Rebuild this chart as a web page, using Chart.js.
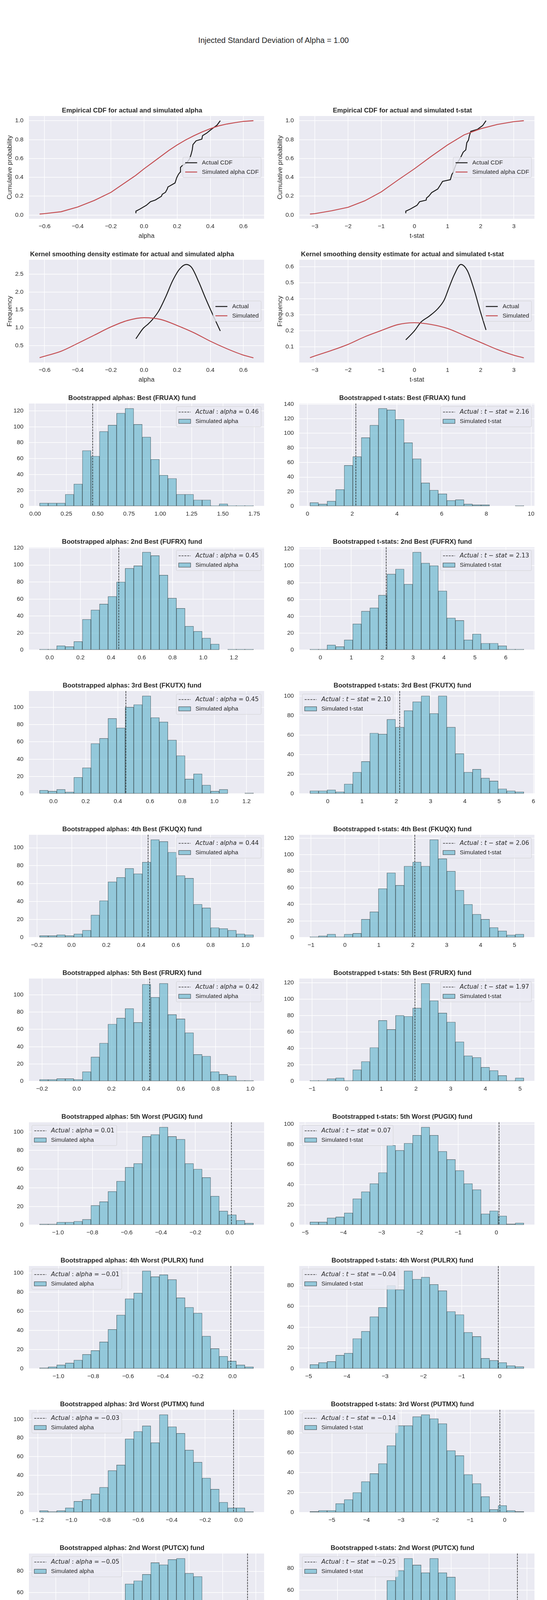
<!DOCTYPE html>
<html>
<head>
<meta charset="utf-8">
<script src="https://cdn.jsdelivr.net/npm/chart.js@4.4.1/dist/chart.umd.min.js"></script>
<style>
  body { margin: 0; background: #fff; }
  #fig { position: relative; width: 1400px; height: 4800px; background: #fff; overflow: hidden; }
  #suptitle { position: absolute; left: 0; top: 90px; width: 1400px; text-align: center;
    font: 20px "Liberation Sans", Arial, sans-serif; line-height: 26px; color: #262626; }
</style>
</head>
<body>
<div id="fig"><div id="suptitle">Injected Standard Deviation of Alpha = 1.00</div></div>
<script>
// ---- empirical CDFs ----
const cdfAlphaActX = [-0.049,-0.049,-0.026,0.014,0.039,0.068,0.105,0.11,0.129,0.141,0.144,0.187,0.197,0.207,0.218,0.22,0.23,0.258,0.275,0.284,0.291,0.295,0.314,0.349,0.353,0.377,0.408,0.44,0.46];
const cdfAlphaActY = [0.018,0.041,0.062,0.103,0.141,0.159,0.199,0.22,0.24,0.279,0.297,0.34,0.395,0.43,0.455,0.505,0.523,0.554,0.595,0.643,0.691,0.746,0.787,0.805,0.842,0.867,0.911,0.952,1.0];
const cdfAlphaSimX = [-0.63,-0.6,-0.5,-0.4,-0.3,-0.2,-0.1,-0.05,0,0.05,0.1,0.15,0.2,0.25,0.3,0.35,0.4,0.45,0.5,0.55,0.6,0.66];
const cdfAlphaSimY = [0.01,0.015,0.035,0.085,0.155,0.24,0.36,0.42,0.49,0.555,0.62,0.685,0.743,0.795,0.84,0.88,0.916,0.945,0.965,0.98,0.993,1.0];

const cdfTActX = [-0.26,-0.26,-0.13,0.078,0.157,0.355,0.365,0.433,0.522,0.704,0.78,0.85,1.085,1.13,1.17,1.2,1.25,1.32,1.39,1.47,1.55,1.58,1.63,1.66,1.7,1.9,2.06,2.16];
const cdfTActY = [0.018,0.041,0.062,0.103,0.141,0.158,0.18,0.2,0.238,0.276,0.317,0.357,0.375,0.43,0.45,0.485,0.533,0.567,0.606,0.666,0.691,0.766,0.794,0.842,0.887,0.908,0.949,1.0];
const cdfTSimX = [-3.15,-3,-2.5,-2,-1.5,-1,-0.5,0,0.5,1,1.5,2,2.5,3,3.3];
const cdfTSimY = [0.01,0.015,0.045,0.082,0.15,0.245,0.37,0.49,0.62,0.743,0.85,0.915,0.96,0.99,1.0];

// ---- kernel density estimates ----
const kdeAlphaActX = [-0.049,-0.005,0.026,0.052,0.089,0.131,0.173,0.215,0.255,0.288,0.33,0.372,0.424,0.46];
const kdeAlphaActY = [0.69,0.98,1.107,1.233,1.468,1.866,2.318,2.644,2.77,2.68,2.282,1.812,1.269,0.908];
const kdeAlphaSimX = [-0.63,-0.6,-0.5,-0.4,-0.3,-0.2,-0.1,0,0.1,0.2,0.3,0.4,0.5,0.6,0.66];
const kdeAlphaSimY = [0.16,0.2,0.34,0.56,0.79,1.02,1.2,1.28,1.23,1.06,0.86,0.62,0.41,0.23,0.155];

const kdeTActX = [-0.26,0,0.2,0.45,0.7,0.9,1.05,1.2,1.4,1.6,1.8,2.0,2.16];
const kdeTActY = [0.144,0.2,0.255,0.292,0.337,0.393,0.473,0.549,0.614,0.574,0.457,0.313,0.206];
const kdeTSimX = [-3.15,-3,-2.5,-2,-1.5,-1,-0.5,0,0.5,1,1.5,2,2.5,3,3.3];
const kdeTSimY = [0.033,0.044,0.078,0.116,0.163,0.202,0.239,0.251,0.24,0.215,0.172,0.128,0.084,0.048,0.032];

// tick labels for the top two rows
const alphaTicks = [-0.6,-0.4,-0.2,0,0.2,0.4,0.6];
const tstatTicks = [-3,-2,-1,0,1,2,3];
const cdfYTicks = [0,0.2,0.4,0.6,0.8,1.0];
const kdeAlphaYTicks = [0.5,1.0,1.5,2.0,2.5];
const kdeTYTicks = [0.1,0.2,0.3,0.4,0.5,0.6];

// ---- bootstrapped histograms (25 bins each) ----
const histFunds = ['Best (FRUAX)','2nd Best (FUFRX)','3rd Best (FKUTX)','4th Best (FKUQX)','5th Best (FRURX)',
  '5th Worst (PUGIX)','4th Worst (PULRX)','3rd Worst (PUTMX)','2nd Worst (PUTCX)','Worst (PUTBX)'];
const histActual = [0.46,2.16,0.45,2.13,0.45,2.10,0.44,2.06,0.42,1.97,0.01,0.07,-0.01,-0.04,-0.03,-0.14,-0.05,-0.25,-0.05,-0.25];
const histBinLo = [0.036,0.109,-0.0657,-0.337,-0.0865,-0.516,-0.184,-1.031,-0.214,-1.06,-1.107,-4.873,-1.108,-4.964,-1.19,-5.633,-1.296,-5.723,-1.448,-8.763];
const histBinHi = [1.744,9.674,1.327,6.584,1.243,5.719,1.046,5.275,1.018,5.11,0.138,0.717,0.12,0.626,0.089,0.552,-0.0146,-0.082,-0.1085,-0.514];
const histCounts = [
  [4,4,4,15,28,70,63,94,102,117,123,103,87,59,39,35,15,15,8,8,1,3,1,1,1],
  [5,3,7,23,56,68,94,111,134,132,119,87,65,32,22,17,8,9,3,2,2,0,0,0,1],
  [1,1,5,4,10,36,47,54,63,80,96,99,115,111,88,61,49,28,22,14,7,0,1,1,1],
  [1,1,6,4,12,31,46,50,65,90,96,78,116,103,100,70,38,35,12,19,8,8,5,1,1],
  [4,3,5,2,19,30,58,64,87,76,100,103,113,88,83,62,44,17,23,10,3,5,0,0,1],
  [3,3,4,2,10,22,33,62,61,76,68,85,94,100,82,100,68,41,22,25,16,13,5,3,2],
  [2,2,3,2,4,8,25,41,62,67,77,71,84,109,107,95,69,66,37,33,11,10,8,4,3],
  [1,2,4,1,4,5,22,31,59,78,63,86,91,86,118,95,80,57,40,28,22,12,8,3,4],
  [2,2,3,3,2,11,28,44,66,73,84,68,112,97,113,77,72,56,31,29,11,8,6,1,1],
  [1,1,3,4,1,14,24,41,74,63,80,79,89,119,98,83,72,48,31,29,17,13,7,1,4],
  [1,1,3,3,4,6,21,25,36,47,62,66,95,97,105,95,92,66,60,51,31,15,11,5,2],
  [3,3,7,8,12,26,33,41,52,79,74,81,89,97,89,73,65,54,41,35,11,14,9,1,2],
  [1,2,4,6,9,15,19,28,41,56,73,79,102,96,98,93,74,64,58,34,21,13,8,4,2],
  [4,6,7,13,15,29,36,50,59,80,76,94,86,88,81,75,55,52,35,31,10,8,6,3,2],
  [2,1,2,5,12,14,20,27,45,51,79,87,93,75,105,92,85,67,54,37,25,11,5,5,1],
  [1,2,2,9,13,20,31,39,49,67,87,87,96,98,94,89,62,57,38,29,16,3,7,2,1],
  [1,2,2,6,9,15,19,20,35,45,68,71,77,88,86,91,92,78,75,40,29,26,16,5,4],
  [3,5,5,14,20,33,28,29,46,69,78,89,83,76,89,76,72,49,49,32,15,19,11,7,2],
  [1,2,7,11,12,9,24,31,31,52,63,59,63,81,96,98,79,82,74,42,33,25,14,5,6],
  [1,0,0,0,1,2,5,5,7,18,27,42,60,76,102,120,123,124,95,72,53,30,24,11,5]
];
const histXTicks = [
  [0,0.25,0.5,0.75,1.0,1.25,1.5,1.75], [0,2,4,6,8,10],
  [0,0.2,0.4,0.6,0.8,1.0,1.2], [0,1,2,3,4,5,6],
  [0,0.2,0.4,0.6,0.8,1.0,1.2], [0,1,2,3,4,5,6],
  [-0.2,0,0.2,0.4,0.6,0.8,1.0], [-1,0,1,2,3,4,5],
  [-0.2,0,0.2,0.4,0.6,0.8,1.0], [-1,0,1,2,3,4,5],
  [-1.0,-0.8,-0.6,-0.4,-0.2,0], [-5,-4,-3,-2,-1,0],
  [-1.0,-0.8,-0.6,-0.4,-0.2,0], [-5,-4,-3,-2,-1,0],
  [-1.2,-1.0,-0.8,-0.6,-0.4,-0.2,0], [-5,-4,-3,-2,-1,0],
  [-1.2,-1.0,-0.8,-0.6,-0.4,-0.2,0], [-5,-4,-3,-2,-1,0],
  [-1.4,-1.2,-1.0,-0.8,-0.6,-0.4,-0.2], [-8,-6,-4,-2]
];
const histXDecimals = [2,0,1,0,1,0,1,0,1,0,1,0,1,0,1,0,1,0,1,0];
const histYStep = 20;
const histLegendLoc = ['upper right','upper right','upper right','upper right','upper right','upper left',
  'upper right','upper right','upper right','upper right','upper left','upper left','upper left','upper left',
  'upper left','upper left','upper left','upper left','upper left','upper left'];

// ---- look ----
const BG = '#EAEAF2', TXT = '#262626', RED = '#C44E52', BLK = '#1A1A1A';
const BAR_FILL = 'rgba(100,181,205,0.65)', BAR_EDGE = 'rgba(26,26,26,0.7)';
const TICK_FS = 15.3, LAB_FS = 16.7;
const FONT = '"Liberation Sans", Arial, sans-serif';
const MATH = '"DejaVu Sans", sans-serif';

// axes geometry (figure pixels)
const AX_LEFT = [74, 766], AX_TOP0 = 297, ROW_PITCH = 368, AX_W = 602, AX_H = 263;
const PAD_L = 74, PAD_T = 34, PAD_B = 60, PAD_R = 22;

Chart.defaults.font.family = FONT;
Chart.defaults.color = TXT;

function padRange(vals) {
  const lo = Math.min(...vals), hi = Math.max(...vals), m = (hi - lo) * 0.05;
  return [lo - m, hi + m];
}
function fmtTick(v, d) {
  if (Math.abs(v) < 1e-9) v = 0;
  const s = Math.abs(v).toFixed(d);
  return v < 0 ? '\u2212' + s : s;
}
function pts(xs, ys) { return xs.map((x, i) => ({x, y: ys[i]})); }

function segFont(seg) {
  if (seg.math) return (seg.it ? 'italic ' : '') + TICK_FS + 'px ' + MATH;
  return TICK_FS + 'px ' + FONT;
}
function itemSegs(it) { return it.segs || [{t: it.text}]; }

// matplotlib-like background, vertical marker and legend
const axesDeco = {
  id: 'axesDeco',
  beforeDraw(chart) {
    const {ctx, chartArea: ca} = chart;
    ctx.save();
    ctx.fillStyle = BG;
    ctx.fillRect(ca.left, ca.top, ca.right - ca.left, ca.bottom - ca.top);
    ctx.restore();
  },
  afterDatasetsDraw(chart, args, o) {
    const {ctx, chartArea: ca} = chart;
    if (o.vline !== undefined && o.vline !== null) {
      const x = chart.scales.x.getPixelForValue(o.vline);
      ctx.save();
      ctx.strokeStyle = BLK; ctx.lineWidth = 1.4; ctx.setLineDash([5.1, 2.2]);
      ctx.beginPath(); ctx.moveTo(x, ca.top); ctx.lineTo(x, ca.bottom); ctx.stroke();
      ctx.restore();
    }
    if (!o.items) return;
    const fs = TICK_FS;
    const pad = 0.4 * fs, hl = 2 * fs, htp = 0.8 * fs, rowH = 16.1, sp = 0.5 * fs, bap = 0.5 * fs;
    ctx.save();
    const widths = o.items.map(it => itemSegs(it).reduce((s, g) => {
      ctx.font = segFont(g); return s + ctx.measureText(g.t).width;
    }, 0));
    const n = o.items.length;
    const w = 2 * pad + hl + htp + Math.max(...widths);
    const h = 2 * pad + n * rowH + (n - 1) * sp;
    const x = o.loc.indexOf('left') >= 0 ? ca.left + bap : ca.right - bap - w;
    const y = o.loc.indexOf('upper') === 0 ? ca.top + bap : (ca.top + ca.bottom) / 2 - h / 2;
    ctx.beginPath();
    if (ctx.roundRect) ctx.roundRect(x, y, w, h, 3); else ctx.rect(x, y, w, h);
    ctx.fillStyle = 'rgba(234,234,242,0.8)'; ctx.fill();
    ctx.strokeStyle = 'rgba(204,204,204,0.8)'; ctx.lineWidth = 1; ctx.stroke();
    o.items.forEach((it, i) => {
      const cy = y + pad + rowH / 2 + i * (rowH + sp);
      const hx = x + pad;
      ctx.setLineDash([]);
      if (it.kind === 'line') {
        ctx.strokeStyle = it.color; ctx.lineWidth = 2.4;
        ctx.beginPath(); ctx.moveTo(hx, cy); ctx.lineTo(hx + hl, cy); ctx.stroke();
      } else if (it.kind === 'dash') {
        ctx.strokeStyle = BLK; ctx.lineWidth = 1.4; ctx.setLineDash([5.1, 2.2]);
        ctx.beginPath(); ctx.moveTo(hx, cy); ctx.lineTo(hx + hl, cy); ctx.stroke();
        ctx.setLineDash([]);
      } else {
        const ph = 0.7 * fs;
        ctx.fillStyle = BAR_FILL; ctx.fillRect(hx, cy - ph / 2, hl, ph);
        ctx.strokeStyle = BAR_EDGE; ctx.lineWidth = 1.2; ctx.strokeRect(hx, cy - ph / 2, hl, ph);
      }
      let tx = hx + hl + htp;
      ctx.fillStyle = TXT; ctx.textBaseline = 'middle'; ctx.textAlign = 'left';
      itemSegs(it).forEach(g => {
        ctx.font = segFont(g);
        ctx.fillText(g.t, tx, cy);
        tx += ctx.measureText(g.t).width;
      });
    });
    ctx.restore();
  }
};

function axis(range, ticks, dec, isX, title) {
  const [min, max] = range;
  const inside = ticks.filter(v => v >= min - 1e-9 && v <= max + 1e-9);
  return {
    type: 'linear', min, max, offset: false,
    grid: {color: '#ffffff', lineWidth: 1.4, drawTicks: false, offset: false},
    border: {display: false},
    ticks: {autoSkip: false, maxRotation: 0, padding: isX ? 11 : 14,
      font: {size: TICK_FS}, color: TXT, callback: v => fmtTick(v, dec)},
    afterBuildTicks: s => { s.ticks = inside.map(v => ({value: v})); },
    afterFit: s => { if (isX) s.height = PAD_B; else s.width = PAD_L; },
    title: title ? {display: true, text: title, color: TXT, font: {size: LAB_FS, lineHeight: 1.2},
      padding: isX ? {top: 0, bottom: 6} : {top: 15, bottom: 0}} : {display: false}
  };
}

const fig = document.getElementById('fig');
function makeCanvas(r, c) {
  const cv = document.createElement('canvas');
  cv.width = PAD_L + AX_W + PAD_R;
  cv.height = PAD_T + AX_H + PAD_B;
  const left = AX_LEFT[c] - PAD_L, top = AX_TOP0 + r * ROW_PITCH - PAD_T;
  cv.style.cssText = 'position:absolute;left:' + left + 'px;top:' + top + 'px;width:' +
    cv.width + 'px;height:' + cv.height + 'px';
  fig.appendChild(cv);
  return cv;
}

function baseOptions(title, scales, deco) {
  return {
    responsive: false, animation: false, devicePixelRatio: 1,
    layout: {padding: {left: 0, right: PAD_R, top: 0, bottom: 0}},
    plugins: {
      legend: {display: false}, tooltip: {enabled: false},
      title: {display: true, text: title, color: TXT, font: {size: LAB_FS, weight: 'bold', lineHeight: 1.2},
        padding: {top: 10, bottom: 4}},
      axesDeco: deco
    },
    scales
  };
}

function lineChart(r, c, cfg) {
  const allX = cfg.ax.concat(cfg.sx), allY = cfg.ay.concat(cfg.sy);
  const ds = (xs, ys, color, order) => ({
    data: pts(xs, ys), showLine: true, pointRadius: 0, borderColor: color, borderWidth: 2.4,
    fill: false, order, tension: cfg.smooth ? 0.4 : 0, cubicInterpolationMode: cfg.smooth ? 'monotone' : 'default'
  });
  new Chart(makeCanvas(r, c), {
    type: 'scatter',
    data: {datasets: [ds(cfg.ax, cfg.ay, BLK, 1), ds(cfg.sx, cfg.sy, RED, 0)]},
    options: baseOptions(cfg.title, {
      x: axis(padRange(allX), cfg.xt, cfg.xd, true, cfg.xlab),
      y: axis(padRange(allY), cfg.yt, 1, false, cfg.ylab)
    }, {loc: 'center right', items: [
      {kind: 'line', color: BLK, text: cfg.labels[0]},
      {kind: 'line', color: RED, text: cfg.labels[1]}
    ]}),
    plugins: [axesDeco]
  });
}

lineChart(0, 0, {title: 'Empirical CDF for actual and simulated alpha', xlab: 'alpha', ylab: 'Cumulative probability',
  ax: cdfAlphaActX, ay: cdfAlphaActY, sx: cdfAlphaSimX, sy: cdfAlphaSimY, xt: alphaTicks, xd: 1, yt: cdfYTicks,
  labels: ['Actual CDF', 'Simulated alpha CDF'], smooth: false});
lineChart(0, 1, {title: 'Empirical CDF for actual and simulated t-stat', xlab: 't-stat', ylab: 'Cumulative probability',
  ax: cdfTActX, ay: cdfTActY, sx: cdfTSimX, sy: cdfTSimY, xt: tstatTicks, xd: 0, yt: cdfYTicks,
  labels: ['Actual CDF', 'Simulated alpha CDF'], smooth: false});
lineChart(1, 0, {title: 'Kernel smoothing density estimate for actual and simulated alpha', xlab: 'alpha', ylab: 'Frequency',
  ax: kdeAlphaActX, ay: kdeAlphaActY, sx: kdeAlphaSimX, sy: kdeAlphaSimY, xt: alphaTicks, xd: 1, yt: kdeAlphaYTicks,
  labels: ['Actual', 'Simulated'], smooth: true});
lineChart(1, 1, {title: 'Kernel smoothing density estimate for actual and simulated t-stat', xlab: 't-stat', ylab: 'Frequency',
  ax: kdeTActX, ay: kdeTActY, sx: kdeTSimX, sy: kdeTSimY, xt: tstatTicks, xd: 0, yt: kdeTYTicks,
  labels: ['Actual', 'Simulated'], smooth: true});

function actualLabel(isT, v) {
  const num = (v < 0 ? '\u2212' : '') + Math.abs(v).toFixed(2);
  const segs = [{t: 'Actual', math: 1, it: 1}, {t: ' : ', math: 1}];
  if (isT) segs.push({t: 't', math: 1, it: 1}, {t: ' \u2212 ', math: 1}, {t: 'stat', math: 1, it: 1});
  else segs.push({t: 'alpha', math: 1, it: 1});
  segs.push({t: ' = ' + num, math: 1});
  return segs;
}

histCounts.forEach((counts, k) => {
  const isT = k % 2 === 1;
  const lo = histBinLo[k], hi = histBinHi[k], bw = (hi - lo) / counts.length;
  const centers = counts.map((_, i) => lo + (i + 0.5) * bw);
  const xr = padRange([lo, hi, histActual[k]]);
  const ymax = Math.max(...counts) * 1.05;
  const yt = [];
  for (let v = 0; v <= ymax; v += histYStep) yt.push(v);
  const title = 'Bootstrapped ' + (isT ? 't-stats' : 'alphas') + ': ' + histFunds[Math.floor(k / 2)] + ' fund';
  new Chart(makeCanvas(2 + Math.floor(k / 2), k % 2), {
    type: 'bar',
    data: {datasets: [{
      data: pts(centers, counts), backgroundColor: BAR_FILL, borderColor: BAR_EDGE, borderWidth: 0.8,
      borderSkipped: false, barPercentage: 1, categoryPercentage: 1, grouped: false
    }]},
    options: baseOptions(title, {
      x: axis(xr, histXTicks[k], histXDecimals[k], true, null),
      y: axis([0, ymax], yt, 0, false, null)
    }, {vline: histActual[k], loc: histLegendLoc[k], items: [
      {kind: 'dash', segs: actualLabel(isT, histActual[k])},
      {kind: 'patch', text: isT ? 'Simulated t-stat' : 'Simulated alpha'}
    ]}),
    plugins: [axesDeco]
  });
});
</script>
</body>
</html>
